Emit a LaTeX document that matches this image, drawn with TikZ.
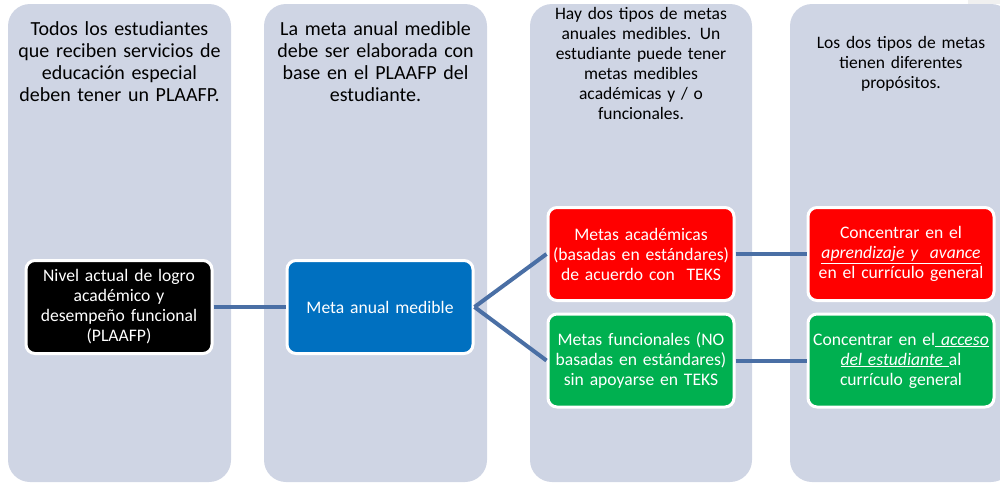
\documentclass[tikz,border=0pt]{standalone}
\usepackage{fontspec}
\setmainfont{Carlito}

\definecolor{colfill}{HTML}{CFD5E4}
\definecolor{linkblue}{HTML}{4A6FA5}
\definecolor{boxblue}{HTML}{0070C0}
\definecolor{boxred}{HTML}{FF0000}
\definecolor{boxgreen}{HTML}{00B050}

\begin{document}
\begin{tikzpicture}[x=1pt,y=-1pt,
	col/.style={fill=colfill,rounded corners=22pt},
	hdr/.style={anchor=north,text width=215pt,align=center,inner sep=0pt,
		font=\fontsize{20}{22}\selectfont},
	hdrsmall/.style={hdr,font=\fontsize{17.5}{20}\selectfont},
	goal/.style={draw=white,line width=3pt,rounded corners=9pt,text=white,
		minimum width=186pt,minimum height=93pt,text width=182pt,align=center,
		inner sep=0pt,font=\fontsize{17.6}{20}\selectfont},
	link/.style={draw=linkblue,line width=4pt}]
	\useasboundingbox (0,0) rectangle (1000,483);
	% columns
	\fill[col] (8,4) rectangle (231,482);
	\fill[col] (264,4) rectangle (487,482);
	\fill[col] (530,4) rectangle (752,482);
	\fill[col] (790,4) rectangle (1013,482);
	\fill[black!6] (968,0) rectangle (1000,4);
	% column headers
	\node[hdr] (hdra) at (119.5,21) {Todos los estudiantes\\que reciben servicios de\\educación especial\\deben tener un PLAAFP.};
	\node[hdr] (hdrb) at (375.5,21) {La meta anual medible\\debe ser elaborada con\\base en el PLAAFP del\\estudiante.};
	\node[hdrsmall] (hdrc) at (641,7) {Hay dos tipos de metas\\anuales medibles. Un\\estudiante puede tener\\metas medibles\\académicas y / o\\funcionales.};
	\node[hdrsmall] (hdrd) at (901,36) {Los dos tipos de metas\\tienen diferentes\\propósitos.};
	% boxes
	\node[goal,fill=black] (plaafp) at (119,307) {Nivel actual de logro\\académico y\\desempeño funcional\\(PLAAFP)};
	\node[goal,fill=boxblue] (meta) at (380,307) {Meta anual medible};
	\node[goal,fill=boxred] (acad) at (641,254) {Metas académicas\\(basadas en estándares)\\de acuerdo con~ TEKS};
	\node[goal,fill=boxgreen] (func) at (641,360.5) {Metas funcionales (NO\\basadas en estándares)\\sin apoyarse en TEKS};
	\node[goal,fill=boxred] (avance) at (901,254) {Concentrar en el\\\underline{\textit{aprendizaje y~ avance}}\\en el currículo general};
	\node[goal,fill=boxgreen] (acceso) at (901,360.5) {Concentrar en el\underline{\textit{~acceso}}\\\underline{\textit{del estudiante~}}al\\currículo general};
	% connectors
	\draw[link] (plaafp.east) -- (meta.west);
	\draw[link] (meta.east) -- (acad.west);
	\draw[link] (meta.east) -- (func.west);
	\draw[link] (acad.east) -- (avance.west);
	\draw[link] (func.east) -- (acceso.west);
\end{tikzpicture}
\end{document}
